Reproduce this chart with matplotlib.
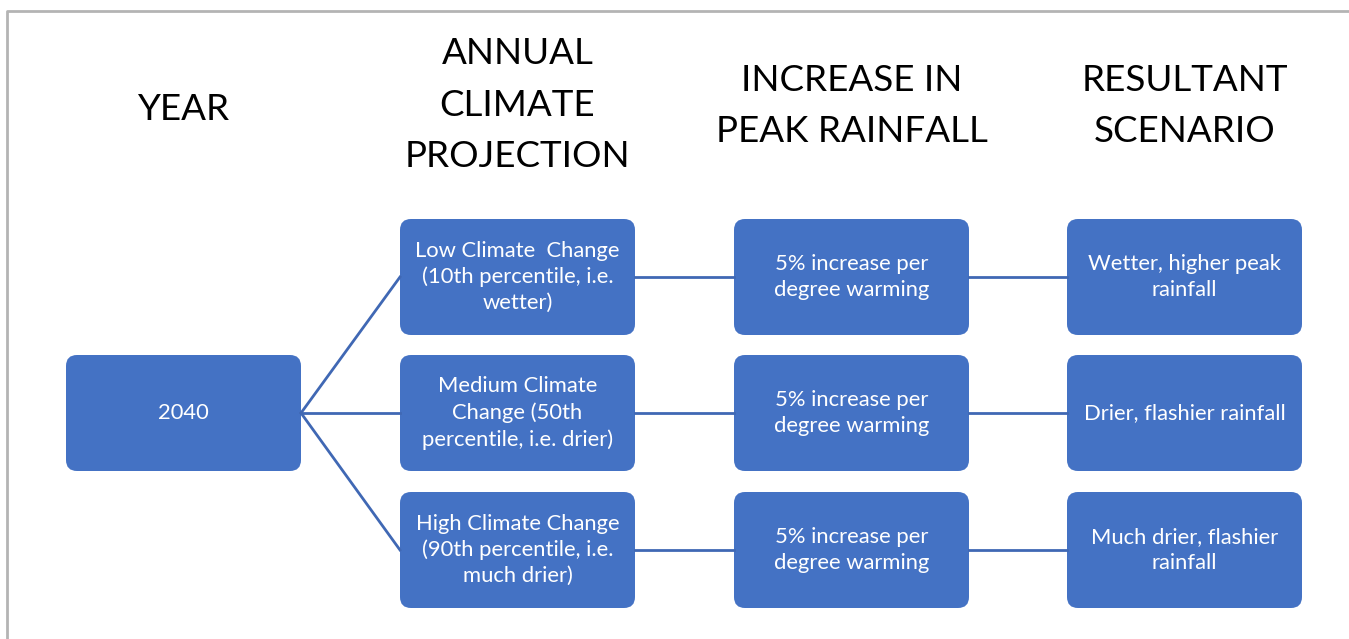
import matplotlib.pyplot as plt
from matplotlib.patches import FancyBboxPatch

plt.rcParams["font.family"] = ["Lato", "DejaVu Sans"]

# Textos del diagrama
headers = ["YEAR", "ANNUAL\nCLIMATE\nPROJECTION", "INCREASE IN\nPEAK RAINFALL", "RESULTANT\nSCENARIO"]
year_label = "2040"
projections = [
    "Low Climate  Change\n(10th percentile, i.e.\nwetter)",
    "Medium Climate\nChange (50th\npercentile, i.e. drier)",
    "High Climate Change\n(90th percentile, i.e.\nmuch drier)",
]
increases = [
    "5% increase per\ndegree warming",
    "5% increase per\ndegree warming",
    "5% increase per\ndegree warming",
]
scenarios = [
    "Wetter, higher peak\nrainfall",
    "Drier, flashier rainfall",
    "Much drier, flashier\nrainfall",
]

# Geometría (pixeles)
W, H = 1349, 639
col_x = [66, 400, 734, 1067]
box_w, box_h = 235, 116
row_y = [219, 355, 492]
header_y = [110, 105, 106, 106]
blue = "#4472C4"
line_blue = "#4068B4"

fig = plt.figure(figsize=(W / 100, H / 100), dpi=100)
ax = fig.add_axes([0, 0, 1, 1])
ax.set_xlim(0, W)
ax.set_ylim(H, 0)
ax.axis("off")

# Marco gris
ax.plot([7, 7, W], [H, 11, 11], color="#b4b4b4", lw=2, solid_capstyle="butt")


def box(x, y, text):
    p = FancyBboxPatch((x, y), box_w, box_h,
                       boxstyle="round,pad=0,rounding_size=11",
                       fc=blue, ec="none")
    ax.add_patch(p)
    ax.text(x + box_w / 2, y + box_h / 2, text, color="white",
            ha="center", va="center", fontsize=15.8, linespacing=1.36)


# Encabezados
for i, h in enumerate(headers):
    ax.text(col_x[i] + box_w / 2, header_y[i], h, ha="center", va="center",
            fontsize=26.5, color="black", linespacing=1.68)

# Conectores
yr_y = row_y[1]
cx0 = col_x[0] + box_w
for r in row_y:
    cy = r + box_h / 2
    ax.plot([cx0, col_x[1]], [yr_y + box_h / 2, cy], color=line_blue, lw=2)
    ax.plot([col_x[1] + box_w, col_x[2]], [cy, cy], color=line_blue, lw=2)
    ax.plot([col_x[2] + box_w, col_x[3]], [cy, cy], color=line_blue, lw=2)

box(col_x[0], yr_y, year_label)
for r, t in zip(row_y, projections):
    box(col_x[1], r, t)
for r, t in zip(row_y, increases):
    box(col_x[2], r, t)
for r, t in zip(row_y, scenarios):
    box(col_x[3], r, t)

fig.savefig("out.png", dpi=100, facecolor="white")
